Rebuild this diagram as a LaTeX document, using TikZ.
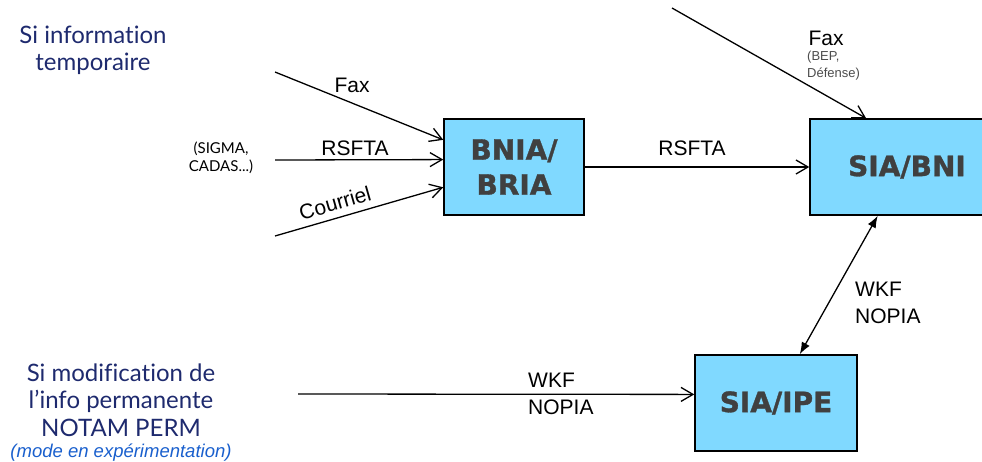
\documentclass[tikz,border=0pt]{standalone}
\usepackage{fontspec}
\setmainfont{Liberation Sans}
\newfontfamily\comicfont{Lato}[Ligatures=NoCommon]
\newfontfamily\boxfont{DejaVu Sans Bold}[FakeBold=1.2]
\usetikzlibrary{arrows.meta}
\definecolor{boxblue}{RGB}{128,217,255}
\definecolor{boxtext}{RGB}{64,64,64}
\definecolor{navy}{RGB}{30,42,110}
\definecolor{modeblue}{RGB}{25,95,205}
\begin{document}
\begin{tikzpicture}
            [x=1pt,y=-1pt,
             Box/.style={rectangle,draw=black,line width=1.5pt,fill=boxblue,inner sep=0pt,
               text=boxtext,align=center,font=\boxfont\fontsize{28}{35}\selectfont},
             Lbl/.style={inner sep=0pt,align=left,font=\fontsize{21}{27}\selectfont},
             Note/.style={inner sep=0pt,align=center,text=navy,font=\comicfont\fontsize{24}{27}\selectfont},
             Link/.style={line width=1.3pt,-{Straight Barb[length=12pt,width=14pt]}}];
            \useasboundingbox (0,0) rectangle (982,461);
            \node[Box,minimum width=140pt,minimum height=96pt] (bnia) at (514,167){BNIA/\\BRIA};
            \node[Box,minimum width=194pt,minimum height=96pt] (bni) at (907,167){SIA/BNI};
            \node[Box,minimum width=162pt,minimum height=96pt] (ipe) at (776,403){SIA/IPE};
            \coordinate (faxin) at (275,72);
            \coordinate (rsftain) at (275,160);
            \coordinate (courin) at (275,236);
            \coordinate (faxtop) at (672,8);
            \coordinate (permin) at (298,394);
    	    \draw [Link](faxin) to (bnia.159);
    	    \draw [Link](rsftain) to (bnia.174);
    	    \draw [Link](courin) to (bnia.196);
    	    \draw [Link](bnia) to (bni);
    	    \draw [Link](faxtop) to (bni.130);
    	    \draw [Link](permin) to (ipe.174);
    	    \draw [line width=1.3pt,{Latex[length=12pt,width=9pt]}-{Latex[length=12pt,width=9pt]}](bni.239) to (ipe.64);
            \node[Lbl] (lfax) at (352,85){Fax};
            \node[Lbl] (lrsfta) at (355,148){RSFTA};
            \node[Lbl,rotate=16] (lcour) at (335,203){Courriel};
            \node[inner sep=0pt,align=center,font=\comicfont\fontsize{15}{18}\selectfont] (lsigma) at (221,158){(SIGMA,\\CADAS...)};
            \node[Lbl] (lrsfta2) at (692,148){RSFTA};
            \node[Lbl] (lfax2) at (826,38){Fax};
            \node[inner sep=0pt,align=left,anchor=west,text=black!70,font=\fontsize{13}{17}\selectfont] (lbep) at (807,66){(BEP,\\Défense)};
            \node[Lbl,anchor=west] (lwkf) at (855,303){WKF\\NOPIA};
            \node[Lbl,anchor=west] (lwkf2) at (528,394){WKF\\NOPIA};
            \node[Note] (temp) at (93,50){Si information\\temporaire};
            \node[Note,font=\comicfont\fontsize{24}{27.5}\selectfont] (perm) at (121,400){Si modification de\\l’info permanente\\NOTAM PERM};
            \node[inner sep=0pt,text=modeblue,font=\itshape\fontsize{18.5}{22}\selectfont] (mode) at (121,453){(mode en expérimentation)};
        \end{tikzpicture}
\end{document}
